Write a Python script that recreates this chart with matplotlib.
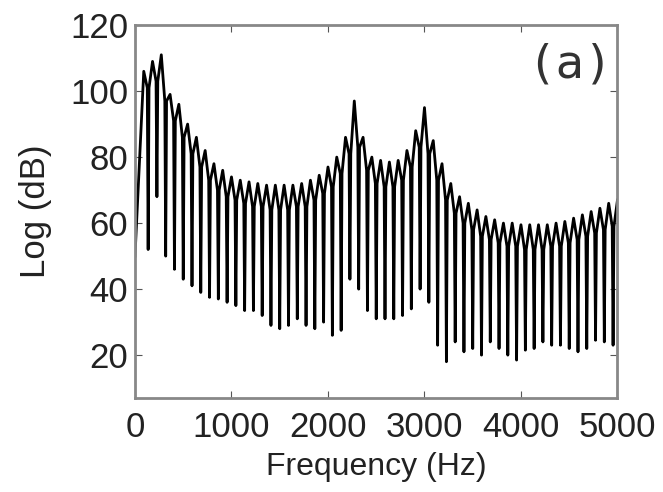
import numpy as np
import matplotlib
matplotlib.use("Agg")
import matplotlib.pyplot as plt

# harmonic spacing of the spectrum (Hz)
f0 = 91

# level at each harmonic peak, k = 1..55 (dB)
peak_db = [106, 109, 111, 99, 96, 90, 86, 82, 78, 76,
           74, 73, 72.5, 72, 71.5, 71.5, 71.5, 71.5, 72, 73,
           74.5, 77, 80, 86, 97, 86, 80, 79, 78.5, 79,
           82, 88, 95, 85, 78, 72, 68, 66, 64, 62,
           61, 60, 60, 59.5, 59.5, 59.5, 59.5, 60, 60.5, 61.5,
           62.5, 63.5, 64.5, 66, 67]

# level just before/after each notch between harmonic k and k+1, k = 1..54
shoulder_db = [101, 103, 97, 91, 86, 81, 77, 73, 70, 68,
               67, 66, 65, 65, 64, 64, 64, 65, 65, 67,
               69, 71, 75, 81, 83, 76, 72, 71, 71, 73,
               77, 83, 81, 73, 67, 63, 60, 58, 56, 55,
               54, 53, 53, 52, 52, 52, 53, 53, 54, 55,
               56, 57, 58, 59]

# bottom of each notch between harmonic k and k+1, k = 1..54
notch_db = [52, 68, 50, 46, 43, 41, 39, 37.5, 37, 36,
            35, 33.5, 33.5, 32, 29, 28, 29, 31, 29, 28,
            30, 26, 27.5, 43, 40, 33.5, 31, 31, 31, 32,
            34, 40, 36, 23, 18, 24, 21, 22, 20, 24,
            22, 20, 18.5, 21.5, 22, 24, 23, 23, 22, 21,
            22, 24.5, 24, 23]

start_db = 50  # value at 0 Hz

# build the trace: peak -> shoulder -> notch -> shoulder -> next peak
notch_w = 9  # half width of a notch, Hz
freq = [0]
level = [start_db]
for k, p in enumerate(peak_db, start=1):
    fk = k * f0
    freq.append(fk)
    level.append(p)
    if k <= len(notch_db):
        mid = fk + f0 / 2
        freq += [mid - notch_w, mid, mid + notch_w]
        level += [shoulder_db[k - 1], notch_db[k - 1], shoulder_db[k - 1]]

plt.rcParams['font.family'] = ['Liberation Sans', 'DejaVu Sans']

fig = plt.figure(figsize=(6.63, 4.92), dpi=100)
ax = fig.add_axes([0.2036, 0.191, 0.727, 0.758])
ax.plot(freq, level, color='black', linewidth=2.0)

ax.set_xlim(0, 5000)
ax.set_ylim(7, 120)
ax.set_xticks([0, 1000, 2000, 3000, 4000, 5000])
ax.set_yticks([20, 40, 60, 80, 100, 120])
ax.tick_params(direction='in', top=True, right=True, length=5,
               labelsize=25, color='#555555', labelcolor='#222222')
ax.tick_params(axis='x', pad=9)
ax.tick_params(axis='y', pad=5)
for s in ax.spines.values():
    s.set_color('#888888')
    s.set_linewidth(2)

ax.set_xlabel('Frequency (Hz)', fontsize=23, labelpad=6, color='#222222')
ax.set_ylabel('Log (dB)', fontsize=25, labelpad=13, color='#222222')
ax.text(0.902, 0.893, '(a)', transform=ax.transAxes, ha='center', va='center',
        fontsize=34, family='DejaVu Sans Mono', color='#333333')

fig.savefig('out.png', dpi=100)
